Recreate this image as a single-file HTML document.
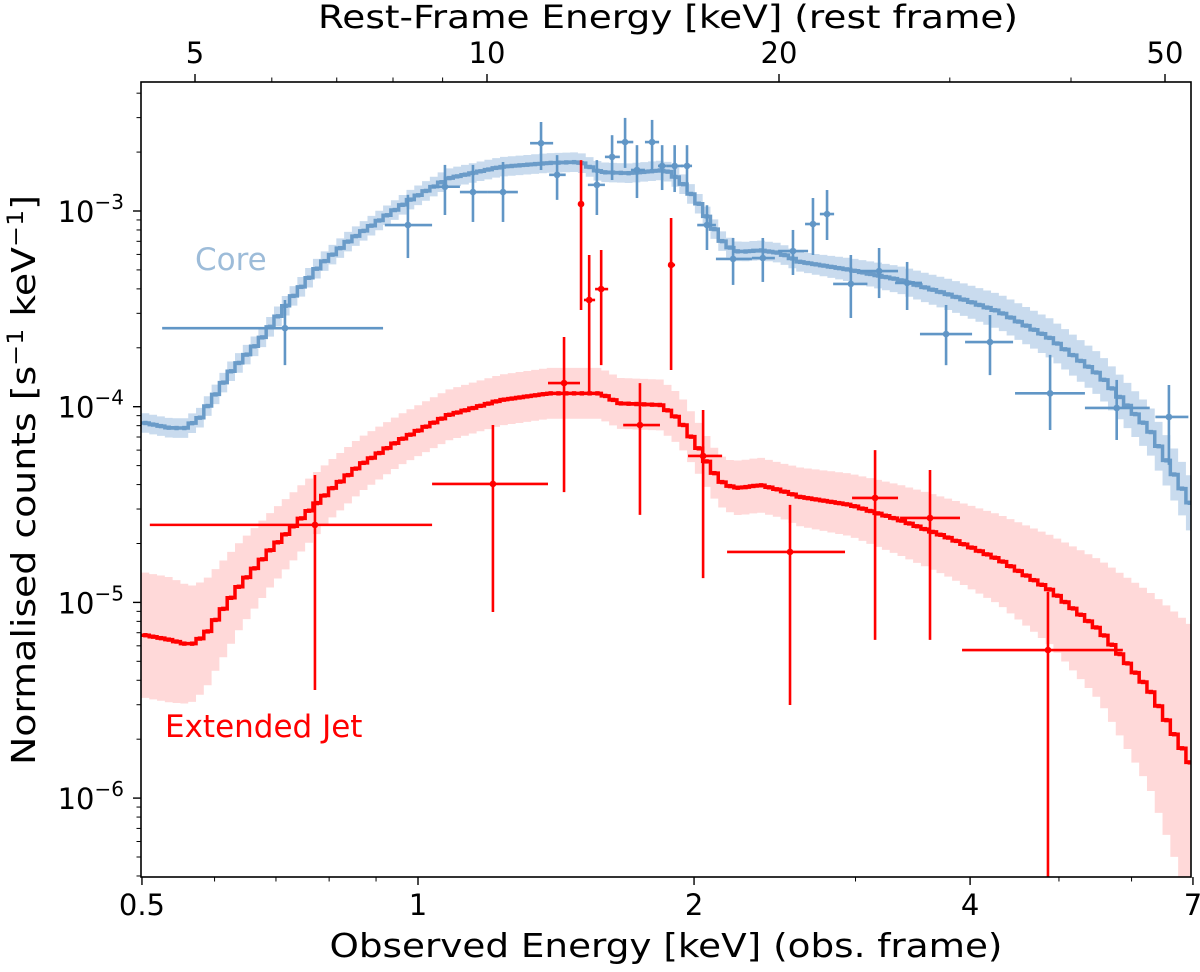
<!DOCTYPE html>
<html><head><meta charset="utf-8"><style>
body{margin:0;background:#fff}
svg text{font-family:"DejaVu Sans","Liberation Sans",sans-serif;fill:#000}
</style></head><body>
<svg id="chart" width="1200" height="967" viewBox="0 0 1200 967" xmlns="http://www.w3.org/2000/svg">
<defs><clipPath id="clip"><rect x="141" y="82" width="1050" height="795"/></clipPath></defs>
<g id="plot" clip-path="url(#clip)"></g>
<rect x="141" y="82" width="1050" height="795" fill="none" stroke="#000" stroke-width="1.6"/>
<g id="axes"></g>
<text x="666" y="957" font-size="33" text-anchor="middle" textLength="673" lengthAdjust="spacingAndGlyphs">Observed Energy [keV] (obs. frame)</text>
<text x="668" y="28" font-size="32" text-anchor="middle" textLength="700" lengthAdjust="spacingAndGlyphs">Rest-Frame Energy [keV] (rest frame)</text>
<text transform="translate(35,480) rotate(-90)" font-size="33" text-anchor="middle" textLength="570" lengthAdjust="spacingAndGlyphs">Normalised counts [s<tspan dy="-12" font-size="22">−1</tspan><tspan dy="12"> keV</tspan><tspan dy="-12" font-size="22">−1</tspan><tspan dy="12">]</tspan></text>
<text x="195" y="270" font-size="31" style="fill:#9dbcd9">Core</text>
<text x="165" y="737" font-size="31" style="fill:#ff0000">Extended Jet</text>
</svg>
<script>
// ---- data ----
const coreModelE=[0.504,0.537,0.557,0.578,0.601,0.624,0.673,0.725,0.782,0.843,0.909,0.98,1.08,1.23,1.39,1.50,1.58,1.70,1.86,1.93,2.03,2.09,2.16,2.24,2.36,2.48,2.61,2.96,3.35,3.80,4.31,4.89,5.54,6.28,6.92];
const coreModelV=[8.26e-5,7.78e-5,7.78e-5,8.75e-5,1.15e-4,1.50e-4,2.19e-4,3.51e-4,5.30e-4,7.11e-4,9.0e-4,1.14e-3,1.47e-3,1.68e-3,1.76e-3,1.78e-3,1.58e-3,1.56e-3,1.62e-3,1.44e-3,1.07e-3,8.5e-4,6.7e-4,6.17e-4,6.3e-4,6.1e-4,5.5e-4,5.0e-4,4.45e-4,3.73e-4,3.05e-4,2.24e-4,1.45e-4,7.6e-5,3.33e-5];
const coreBandDex=[0.05,0.05,0.05,0.05,0.05,0.05,0.05,0.05,0.05,0.05,0.05,0.05,0.05,0.05,0.05,0.05,0.05,0.05,0.05,0.05,0.05,0.05,0.05,0.05,0.05,0.05,0.05,0.06,0.07,0.08,0.09,0.1,0.11,0.12,0.14];
const jetModelE=[0.504,0.537,0.564,0.586,0.601,0.640,0.690,0.743,0.802,0.865,0.956,1.08,1.23,1.39,1.58,1.66,1.84,1.93,2.03,2.09,2.16,2.24,2.36,2.48,2.61,2.96,3.35,3.80,4.31,4.89,5.54,6.28,6.92];
const jetModelV=[6.8e-6,6.43e-6,6.05e-6,6.8e-6,8.1e-6,1.23e-5,1.85e-5,2.64e-5,3.75e-5,5.04e-5,6.76e-5,9.07e-5,1.08e-4,1.17e-4,1.17e-4,1.04e-4,1.02e-4,8.55e-5,6.0e-5,4.75e-5,3.98e-5,3.84e-5,3.98e-5,3.75e-5,3.46e-5,3.15e-5,2.64e-5,2.13e-5,1.65e-5,1.16e-5,7.2e-6,3.57e-6,1.57e-6];
const jetBandDex=[0.32,0.32,0.3,0.28,0.26,0.22,0.19,0.17,0.15,0.14,0.13,0.13,0.13,0.13,0.13,0.13,0.13,0.13,0.13,0.13,0.13,0.14,0.14,0.14,0.15,0.16,0.18,0.2,0.23,0.28,0.36,0.5,0.7];
const coreE=[0.716,0.975,1.070,1.148,1.238,1.362,1.418,1.567,1.628,1.682,1.733,1.800,1.846,1.905,1.965,2.066,2.206,2.377,2.564,2.696,2.793,2.965,3.183,3.415,3.766,4.205,4.89,5.78,6.59];
const coreElo=[0.526,0.920,1.036,1.111,1.192,1.325,1.39,1.532,1.599,1.648,1.707,1.768,1.827,1.868,1.936,2.016,2.113,2.313,2.47,2.643,2.743,2.836,3.034,3.313,3.527,3.95,4.478,5.337,6.37];
const coreEhi=[0.916,1.036,1.111,1.192,1.285,1.404,1.449,1.599,1.660,1.717,1.768,1.832,1.868,1.945,1.990,2.113,2.313,2.450,2.663,2.743,2.843,3.091,3.338,3.545,4.02,4.456,5.337,6.28,6.92];
const coreV=[2.52e-4,8.48e-4,1.33e-3,1.25e-3,1.25e-3,2.22e-3,1.53e-3,1.36e-3,1.89e-3,2.25e-3,1.62e-3,2.25e-3,1.70e-3,1.70e-3,1.70e-3,8.48e-4,5.69e-4,5.75e-4,6.24e-4,8.58e-4,9.65e-4,4.24e-4,4.93e-4,4.29e-4,2.35e-4,2.14e-4,1.17e-4,9.85e-5,8.86e-5];
const coreVlo=[1.63e-4,5.75e-4,9.54e-4,8.79e-4,8.79e-4,1.62e-3,1.14e-3,9.54e-4,1.44e-3,1.66e-3,1.165e-3,1.62e-3,1.28e-3,1.25e-3,1.25e-3,6.32e-4,4.19e-4,4.34e-4,4.71e-4,5.96e-4,7.11e-4,2.84e-4,3.59e-4,3.12e-4,1.63e-4,1.45e-4,7.6e-5,6.76e-5,5.04e-5];
const coreVhi=[3.51e-4,1.21e-3,1.72e-3,1.72e-3,1.78e-3,2.85e-3,1.93e-3,1.82e-3,2.44e-3,2.99e-3,2.17e-3,2.92e-3,2.17e-3,2.17e-3,2.17e-3,1.07e-3,7.28e-4,7.28e-4,8.0e-4,1.165e-3,1.28e-3,5.96e-4,6.47e-4,5.49e-4,3.31e-4,2.94e-4,1.84e-4,1.37e-4,1.29e-4];
const jetE=[0.772,1.207,1.443,1.506,1.537,1.584,1.746,1.888,2.046,2.545,3.151,3.617,4.864];
const jetElo=[0.510,1.036,1.386,1.494,1.517,1.560,1.674,1.874,1.970,2.173,2.974,3.355,3.92];
const jetEhi=[1.036,1.386,1.502,1.517,1.560,1.612,1.836,1.907,2.146,2.922,3.338,3.90,5.87];
const jetV=[2.49e-5,4.03e-5,1.32e-4,1.086e-3,3.51e-4,3.99e-4,8.06e-5,5.30e-4,5.6e-5,1.81e-5,3.42e-5,2.70e-5,5.71e-6];
const jetVlo=[3.57e-6,8.93e-6,3.66e-5,3.12e-4,1.15e-4,1.63e-4,2.8e-5,1.54e-4,1.33e-5,2.99e-6,6.43e-6,6.43e-6,1e-7];
const jetVhi=[4.48e-5,8.06e-5,2.27e-4,1.82e-3,5.96e-4,6.32e-4,1.32e-4,9.21e-4,9.62e-5,3.15e-5,6.0e-5,4.75e-5,1.13e-5];
const xTicks=[0.5,1,2,4,7];
const xTickLabels=["0.5","1","2","4","7"];
const xMinor=[0.6,0.7,0.8,0.9,3,5,6];
const topTicks=[5,10,20,50];
const topMinor=[6,7,8,9,30,40];
const yTicks=[1e-3,1e-4,1e-5,1e-6];
const yTickExp=["−3","−4","−5","−6"];
// ---- scales ----
const L=141,R=1191,T=82,B=877;
const xs=e=>418+917*Math.log10(e);
const xt=e=>487+970*Math.log10(e/10);
const ys=v=>211+195.7*(-3-Math.log10(v));
const NS="http://www.w3.org/2000/svg";
const plot=document.getElementById('plot'),axes=document.getElementById('axes');
function mk(tag,attrs,parent){const el=document.createElementNS(NS,tag);for(const k in attrs)el.setAttribute(k,attrs[k]);parent.appendChild(el);return el;}
function interp(E,arr,e){const l=Math.log10(e);for(let i=0;i<E.length-1;i++){const a=Math.log10(E[i]),b=Math.log10(E[i+1]);if(l<=b||i==E.length-2){const t=(l-a)/(b-a);return arr[i]+(arr[i+1]-arr[i])*t;}}}
function model(E,V,D,col,bandCol,name){
  const lV=V.map(v=>Math.log10(v));
  const step=0.0085;let up="",lo=[],line="";const centers=[];
  const l0=Math.log10(E[0])-0.004,l1=Math.log10(E[E.length-1])+0.006;
  for(let l=l0;l<l1;l+=step){
    const ec=Math.pow(10,l+step/2);const m=interp(E,lV,ec),d=interp(E,D,ec);
    const xa=xs(Math.pow(10,l)),xb=xs(Math.pow(10,l+step));
    up+=(up?"L":"M")+xa+","+ys(Math.pow(10,m+d))+"L"+xb+","+ys(Math.pow(10,m+d));
    lo.unshift("L"+xb+","+ys(Math.pow(10,m-d))+"L"+xa+","+ys(Math.pow(10,m-d)));
    line+=(line?"L":"M")+xa+","+ys(Math.pow(10,m))+"L"+xb+","+ys(Math.pow(10,m));
    centers.push([(xa+xb)/2,ys(Math.pow(10,m))]);
  }
  const band=mk('path',{d:up+lo.join("")+"Z",fill:bandCol,stroke:"none"},plot);
  
  
  const ln=mk('path',{d:line,fill:"none",stroke:col,"stroke-width":3.5},plot);
  
  
  centers.forEach(c=>{const m=mk('rect',{x:c[0]-2.2,y:c[1]-2.2,width:4.4,height:4.4,fill:col},plot);
    
    });
}
function points(E,Elo,Ehi,V,Vlo,Vhi,col,name){
  for(let i=0;i<E.length;i++){
    const g=mk('g',{},plot);
    
    
    mk('line',{x1:xs(Elo[i]),x2:xs(Ehi[i]),y1:ys(V[i]),y2:ys(V[i]),stroke:col,"stroke-width":2.6},g);
    mk('line',{x1:xs(E[i]),x2:xs(E[i]),y1:ys(Vlo[i]),y2:ys(Vhi[i]),stroke:col,"stroke-width":2.6},g);
    mk('circle',{cx:xs(E[i]),cy:ys(V[i]),r:3.3,fill:col},g);
  }
}
model(coreModelE,coreModelV,coreBandDex,"#6a9bc8","#c9dbee","core");
model(jetModelE,jetModelV,jetBandDex,"#ff0000","#ffd9d9","jet");
points(coreE,coreElo,coreEhi,coreV,coreVlo,coreVhi,"#6196c6","core");
points(jetE,jetElo,jetEhi,jetV,jetVlo,jetVhi,"#ff0000","jet");
// ---- axes ----
xTicks.forEach((t,i)=>{const x=xs(t);
  mk('line',{x1:x,x2:x,y1:B,y2:B+8,stroke:"#000","stroke-width":1.4},axes);
  const tx=mk('text',{x:x,y:915,"font-size":29,"text-anchor":"middle"},axes);tx.textContent=xTickLabels[i];
  
  });
xMinor.forEach(t=>{const x=xs(t);mk('line',{x1:x,x2:x,y1:B,y2:B+4.5,stroke:"#000","stroke-width":1},axes);});
topTicks.forEach(t=>{const x=xt(t);
  mk('line',{x1:x,x2:x,y1:T,y2:T-8,stroke:"#000","stroke-width":1.4},axes);
  const tx=mk('text',{x:x,y:63,"font-size":29,"text-anchor":"middle"},axes);tx.textContent=String(t);
  
  });
topMinor.forEach(t=>{const x=xt(t);mk('line',{x1:x,x2:x,y1:T,y2:T-4.5,stroke:"#000","stroke-width":1},axes);});
yTicks.forEach((t,i)=>{const y=ys(t);
  mk('line',{x1:L,x2:L-8,y1:y,y2:y,stroke:"#000","stroke-width":1.4},axes);
  const tx=mk('text',{x:L-17,y:y+11,"font-size":29,"text-anchor":"end"},axes);
  tx.innerHTML='10<tspan dy="-13" font-size="20">'+yTickExp[i]+'</tspan>';
  
  });
for(let d=-7;d<=-2;d++)for(let m=2;m<=9;m++){const v=m*Math.pow(10,d);const y=ys(v);
  if(y>T&&y<B)mk('line',{x1:L,x2:L-4.5,y1:y,y2:y,stroke:"#000","stroke-width":1},axes);}
</script>
</body></html>
